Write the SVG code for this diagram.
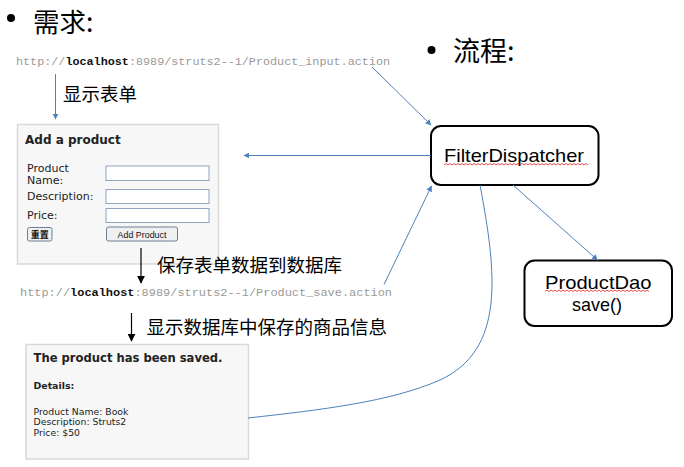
<svg xmlns="http://www.w3.org/2000/svg" width="684" height="467" viewBox="0 0 684 467">
<style>
.cjk{font-family:"Noto Sans CJK SC","Noto Sans",sans-serif;fill:#000}
.url{font-family:"Liberation Mono",monospace;font-size:11.8px;fill:#9a9a96}
.url .b{font-weight:bold;fill:#111}
.v{font-family:"DejaVu Sans",Verdana,sans-serif;fill:#222}
.panel{fill:#f7f7f7;stroke:#d9d9d9;stroke-width:1.5}
.inp{fill:#fff;stroke:#8fa5c0;stroke-width:1}
.btn{fill:#f0f0f0;stroke:#6f7f94;stroke-width:1}
.node{fill:#fff;stroke:#000;stroke-width:2}
.ntext{font-family:"Liberation Sans",Arial,sans-serif;font-size:19px;fill:#000}
.squig{fill:none;stroke:#e02020;stroke-width:0.8}
.blue{fill:none;stroke:#4f81bd;stroke-width:1}
.black{fill:none;stroke:#000;stroke-width:1.2}
</style>
<defs>
<marker id="ab" viewBox="0 0 10 10" refX="9" refY="5" markerWidth="6" markerHeight="6" orient="auto" markerUnits="userSpaceOnUse">
<path d="M0,0 L10,5 L0,10 Z" fill="#4f81bd"/>
</marker>
<marker id="ak" viewBox="0 0 10 10" refX="9" refY="5" markerWidth="8" markerHeight="8" orient="auto" markerUnits="userSpaceOnUse">
<path d="M0,0 L10,5 L0,10 Z" fill="#000"/>
</marker>
</defs>
<rect width="684" height="467" fill="#fff"/>

<g id="title-req">
<circle cx="11" cy="18" r="4" fill="#000"/>
<text class="cjk" x="33" y="31.5" font-size="26.5">需求:</text>
</g>
<g id="title-flow">
<circle cx="431.5" cy="50" r="4" fill="#000"/>
<text class="cjk" x="453" y="61" font-size="27">流程:</text>
</g>

<g id="url-input">
<text class="url" x="16" y="65" textLength="374" lengthAdjust="spacingAndGlyphs">http://<tspan class="b">localhost</tspan>:8989/struts2--1/Product_input.action</text>
</g>

<g id="label-show-form">
<text class="cjk" x="63" y="101" font-size="18.5">显示表单</text>
</g>

<g id="form">
<rect class="panel" x="17.5" y="124.5" width="201" height="139.5"/>
<text class="v" x="25" y="144" font-size="12" font-weight="bold" fill="#111">Add a product</text>
<text class="v" x="27" y="171.5" font-size="11">Product</text>
<text class="v" x="27" y="183.5" font-size="11">Name:</text>
<text class="v" x="27" y="200" font-size="11">Description:</text>
<text class="v" x="27" y="219" font-size="11">Price:</text>
<rect class="inp" x="106" y="166" width="103" height="14.5"/>
<rect class="inp" x="106" y="189.5" width="103" height="14"/>
<rect class="inp" x="106" y="208.5" width="103" height="14"/>
<rect class="btn" x="27.5" y="227.5" width="24.5" height="13.5" rx="2"/>
<text x="39.7" y="238" font-size="9" text-anchor="middle" font-family="'Noto Sans CJK SC',sans-serif" font-weight="bold" fill="#111">重置</text>
<rect class="btn" x="106.5" y="227" width="71" height="14" rx="2"/>
<text x="142" y="238" font-size="9.5" text-anchor="middle" font-family="'Liberation Sans',Arial,sans-serif" fill="#111" textLength="49" lengthAdjust="spacingAndGlyphs">Add Product</text>
</g>

<g id="label-save">
<text class="cjk" x="157" y="272" font-size="18.5">保存表单数据到数据库</text>
</g>

<g id="url-save">
<text class="url" x="20" y="296" textLength="372" lengthAdjust="spacingAndGlyphs">http://<tspan class="b">localhost</tspan>:8989/struts2--1/Product_save.action</text>
</g>

<g id="label-show-db">
<text class="cjk" x="146.5" y="334" font-size="18.5">显示数据库中保存的商品信息</text>
</g>

<g id="result">
<rect class="panel" x="26" y="344.5" width="222.5" height="114.5"/>
<text class="v" x="33.5" y="362" font-size="12.3" font-weight="bold" fill="#111" textLength="189" lengthAdjust="spacingAndGlyphs">The product has been saved.</text>
<text class="v" x="33.5" y="389" font-size="9.4" font-weight="bold" fill="#111">Details:</text>
<text class="v" x="33.5" y="414.5" font-size="9.3">Product Name: Book</text>
<text class="v" x="33.5" y="425" font-size="9.3">Description: Struts2</text>
<text class="v" x="33.5" y="435.5" font-size="9.3">Price: $50</text>
</g>

<g id="filter-dispatcher">
<rect class="node" x="431" y="126" width="167.5" height="59" rx="10"/>
<text class="ntext" x="444" y="162" textLength="140" lengthAdjust="spacingAndGlyphs">FilterDispatcher</text>
<path class="squig" d="M444,165 l2,-1.5 l2,1.5 l2,-1.5 l2,1.5 l2,-1.5 l2,1.5 l2,-1.5 l2,1.5 l2,-1.5 l2,1.5 l2,-1.5 l2,1.5 l2,-1.5 l2,1.5 l2,-1.5 l2,1.5 l2,-1.5 l2,1.5 l2,-1.5 l2,1.5 l2,-1.5 l2,1.5 l2,-1.5 l2,1.5 l2,-1.5 l2,1.5 l2,-1.5 l2,1.5 l2,-1.5 l2,1.5 l2,-1.5 l2,1.5 l2,-1.5 l2,1.5 l2,-1.5 l2,1.5 l2,-1.5 l2,1.5 l2,-1.5 l2,1.5 l2,-1.5 l2,1.5 l2,-1.5 l2,1.5 l2,-1.5 l2,1.5 l2,-1.5 l2,1.5 l2,-1.5 l2,1.5 l2,-1.5 l2,1.5 l2,-1.5 l2,1.5 l2,-1.5 l2,1.5 l2,-1.5 l2,1.5 l2,-1.5 l2,1.5 l2,-1.5 l2,1.5 l2,-1.5 l2,1.5 l2,-1.5 l2,1.5 l2,-1.5 l2,1.5 l2,-1.5 l2,1.5 l2,-1.5 l2,1.5"/>
</g>

<g id="product-dao">
<rect class="node" x="524.5" y="260.5" width="147.5" height="65.5" rx="10"/>
<text class="ntext" x="545" y="288.5" textLength="106.5" lengthAdjust="spacingAndGlyphs">ProductDao</text>
<path class="squig" d="M545,291.5 l2,-1.5 l2,1.5 l2,-1.5 l2,1.5 l2,-1.5 l2,1.5 l2,-1.5 l2,1.5 l2,-1.5 l2,1.5 l2,-1.5 l2,1.5 l2,-1.5 l2,1.5 l2,-1.5 l2,1.5 l2,-1.5 l2,1.5 l2,-1.5 l2,1.5 l2,-1.5 l2,1.5 l2,-1.5 l2,1.5 l2,-1.5 l2,1.5 l2,-1.5 l2,1.5 l2,-1.5 l2,1.5 l2,-1.5 l2,1.5 l2,-1.5 l2,1.5 l2,-1.5 l2,1.5 l2,-1.5 l2,1.5 l2,-1.5 l2,1.5 l2,-1.5 l2,1.5 l2,-1.5 l2,1.5 l2,-1.5 l2,1.5 l2,-1.5 l2,1.5 l2,-1.5 l2,1.5 l2,-1.5 l2,1.5"/>
<text class="ntext" x="572" y="311" textLength="50" lengthAdjust="spacingAndGlyphs">save()</text>
</g>

<g id="connectors">
<line class="blue" x1="55.5" y1="74" x2="55.5" y2="119" marker-end="url(#ab)"/>
<line class="black" x1="141" y1="248" x2="141" y2="283" marker-end="url(#ak)"/>
<line class="black" x1="131.5" y1="313" x2="131.5" y2="341" marker-end="url(#ak)"/>
<line class="blue" x1="372" y1="67" x2="431" y2="125" marker-end="url(#ab)"/>
<line class="blue" x1="431" y1="155.5" x2="244" y2="155.5" marker-end="url(#ab)"/>
<line class="blue" x1="384" y1="284.5" x2="431.5" y2="186" marker-end="url(#ab)"/>
<line class="blue" x1="513" y1="185" x2="597.5" y2="260" marker-end="url(#ab)"/>
<path class="blue" d="M480,185 C497,275 505,350 440,380 C390,402 320,410 248,418"/>
</g>
</svg>
